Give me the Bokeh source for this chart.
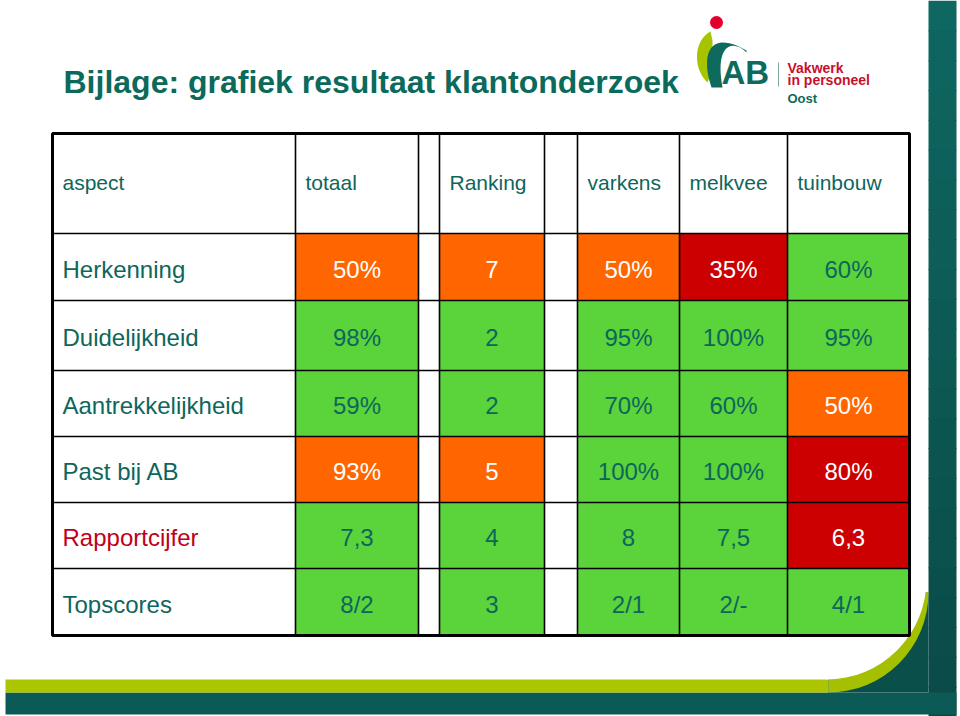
from bokeh.plotting import figure
from bokeh.models import Range1d, ColumnDataSource
from bokeh.core.properties import value
from bokeh.embed import file_html
from bokeh.resources import INLINE
import numpy as np
import math

# ---------------- data ----------------
title_text = "Bijlage: grafiek resultaat klantonderzoek"
first_header = "aspect"
columns = ["totaal", "Ranking", "varkens", "melkvee", "tuinbouw"]
aspects = ["Herkenning", "Duidelijkheid", "Aantrekkelijkheid", "Past bij AB",
           "Rapportcijfer", "Topscores"]
totaal = ["50%", "98%", "59%", "93%", "7,3", "8/2"]
ranking = ["7", "2", "2", "5", "4", "3"]
varkens = ["50%", "95%", "70%", "100%", "8", "2/1"]
melkvee = ["35%", "100%", "60%", "100%", "7,5", "2/-"]
tuinbouw = ["60%", "95%", "50%", "80%", "6,3", "4/1"]
# status per cell: g = goed (green), o = matig (orange), r = slecht (red)
status_totaal = ["o", "g", "g", "o", "g", "g"]
status_ranking = ["o", "g", "g", "o", "g", "g"]
status_varkens = ["o", "g", "g", "g", "g", "g"]
status_melkvee = ["r", "g", "g", "g", "g", "g"]
status_tuinbouw = ["g", "g", "o", "r", "r", "g"]

values_by_col = [totaal, ranking, varkens, melkvee, tuinbouw]
status_by_col = [status_totaal, status_ranking, status_varkens, status_melkvee, status_tuinbouw]

# ---------------- styles / layout ----------------
TEAL = "#0e665b"
RED_TXT = "#c0001a"
FILL = {"g": "#5bd33b", "o": "#ff6600", "r": "#cc0000"}
TXT = {"g": TEAL, "o": "#ffffff", "r": "#ffffff"}
FONT = value("Liberation Sans")

label_col = (52, 295)
col_edges = [(295, 418), (439, 544), (577, 679), (679, 787), (787, 909)]
row_edges = [133, 233, 300, 370, 436, 502, 568, 635]
table_left, table_right = 52, 909
table_top, table_bottom = row_edges[0], row_edges[-1]

W, H = 960, 716


def Y(yi):
    return H - yi


def cbez(p0, c1, c2, p1, n=24):
    t = np.linspace(0, 1, n)
    x = ((1 - t) ** 3 * p0[0] + 3 * (1 - t) ** 2 * t * c1[0]
         + 3 * (1 - t) * t ** 2 * c2[0] + t ** 3 * p1[0])
    y = ((1 - t) ** 3 * p0[1] + 3 * (1 - t) ** 2 * t * c1[1]
         + 3 * (1 - t) * t ** 2 * c2[1] + t ** 3 * p1[1])
    return list(x), list(y)


p = figure(width=W, height=H, x_range=Range1d(0, W), y_range=Range1d(0, H),
           output_backend="svg", toolbar_location=None, min_border=0)
p.axis.visible = False
p.grid.visible = False
p.outline_line_color = None
p.background_fill_color = "white"
p.border_fill_color = "white"

# ---------------- slide decoration ----------------
n_strips = 24
top_c = (0x0f, 0x67, 0x61)
bot_c = (0x0a, 0x4b, 0x48)
for i in range(n_strips):
    t = i / (n_strips - 1)
    c = tuple(int(top_c[k] + (bot_c[k] - top_c[k]) * t) for k in range(3))
    y0 = i * H / n_strips
    y1 = y0 + H / n_strips + 1
    p.quad(left=928, right=956, top=Y(y0), bottom=Y(y1),
           fill_color="#%02x%02x%02x" % c, line_color=None)
p.quad(left=5, right=956, top=Y(692), bottom=Y(714), fill_color="#0c5a56", line_color=None)
p.quad(left=5, right=828, top=Y(679), bottom=Y(692), fill_color="#abc600", line_color=None)
p.quad(left=828, right=928, top=Y(592), bottom=Y(692), fill_color="#0b4f4b", line_color=None)
p.wedge(x=[828], y=[Y(592)], radius=100, start_angle=-math.pi / 2, end_angle=0,
        fill_color="#a4c000", line_color=None)
p.wedge(x=[826], y=[Y(579)], radius=100, start_angle=-math.pi / 2, end_angle=0,
        fill_color="white", line_color=None)

# title
p.text(x=[63], y=[Y(81)], text=[title_text], text_font=FONT, text_font_style="bold",
       text_font_size="32px", text_color="#0b6a5c", text_baseline="middle")

# logo swoosh (green crescent + teal band)
gx1, gy1 = cbez((710, 31), (693, 40), (692, 68), (707, 82))
p.patch(gx1 + [712, 712], [Y(v) for v in gy1 + [70, 40]], fill_color="#a8c400", line_color=None)
ox, oy = cbez((711, 87), (700, 55), (708, 28), (746, 50))
ix, iy = cbez((746, 52), (732, 38), (714, 44), (722, 87))
p.patch(ox + ix, [Y(v) for v in oy + iy], fill_color="#0d6a5c", line_color=None)
p.circle(x=[716], y=[Y(22)], radius=6.5, fill_color="#e2002a", line_color=None)
p.text(x=[721], y=[Y(72)], text=["AB"], text_font=FONT, text_font_style="bold",
       text_font_size="33px", text_color="#0d6a5c", text_baseline="middle")
p.segment(x0=[778], y0=[Y(62)], x1=[778], y1=[Y(86)], line_color="#7fa8a0", line_width=1)
p.text(x=[787, 787], y=[Y(67), Y(79)], text=["Vakwerk", "in personeel"], text_font=FONT,
       text_font_style="bold", text_font_size="14px", text_color="#c8102e",
       text_baseline="middle")
p.text(x=[787], y=[Y(98)], text=["Oost"], text_font=FONT, text_font_style="bold",
       text_font_size="13px", text_color="#0d6a5c", text_baseline="middle")

# ---------------- table cells ----------------
cl, cr, ct, cb, cf = [], [], [], [], []
tx, ty, tt, tc = [], [], [], []
for j, (vals, stats) in enumerate(zip(values_by_col, status_by_col)):
    x0, x1 = col_edges[j]
    for i, (v, s) in enumerate(zip(vals, stats)):
        y0, y1 = row_edges[i + 1], row_edges[i + 2]
        cl.append(x0); cr.append(x1); ct.append(Y(y0)); cb.append(Y(y1)); cf.append(FILL[s])
        tx.append((x0 + x1) / 2); ty.append(Y((y0 + y1) / 2 + 2)); tt.append(v); tc.append(TXT[s])

p.quad(source=ColumnDataSource(dict(left=cl, right=cr, top=ct, bottom=cb, fill=cf)),
       left="left", right="right", top="top", bottom="bottom", fill_color="fill", line_color=None)
p.text(source=ColumnDataSource(dict(x=tx, y=ty, text=tt, color=tc)), x="x", y="y", text="text",
       text_color="color", text_font=FONT, text_font_size="24px", text_align="center",
       text_baseline="middle")

hx = [label_col[0] + 10] + [e[0] + 10 for e in col_edges]
hy = [Y(182)] * (len(columns) + 1)
p.text(x=hx, y=hy, text=[first_header] + columns, text_font=FONT, text_font_size="21px",
       text_color=TEAL, text_baseline="middle")

rx = [label_col[0] + 10] * len(aspects)
ry = [Y((row_edges[i + 1] + row_edges[i + 2]) / 2 + 2) for i in range(len(aspects))]
rc = [RED_TXT if a == "Rapportcijfer" else TEAL for a in aspects]
p.text(source=ColumnDataSource(dict(x=rx, y=ry, text=aspects, color=rc)), x="x", y="y",
       text="text", text_color="color", text_font=FONT, text_font_size="24px",
       text_baseline="middle")

# ---------------- grid lines ----------------
vx = sorted(set([label_col[0], label_col[1]] + [e for pair in col_edges for e in pair]))
p.segment(x0=vx, y0=[Y(table_top)] * len(vx), x1=vx, y1=[Y(table_bottom)] * len(vx),
          line_color="black", line_width=1.6)
p.segment(x0=[table_left] * len(row_edges), y0=[Y(v) for v in row_edges],
          x1=[table_right] * len(row_edges), y1=[Y(v) for v in row_edges],
          line_color="black", line_width=1.6)
p.quad(left=[table_left], right=[table_right], top=[Y(table_top)], bottom=[Y(table_bottom)],
       fill_color=None, line_color="black", line_width=3)

open("out.html", "w").write(file_html(p, INLINE))
